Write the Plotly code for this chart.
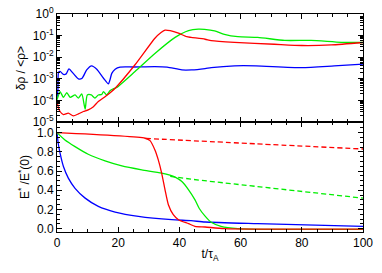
import plotly.graph_objects as go

# ---- top panel: density fluctuation ----
t_blue_top = [0, 0.3, 0.5, 1, 2.1, 3.0, 3.9, 5.3, 7.0, 8.2, 9.7, 11.3, 13.0, 15.2, 16.8, 17.3, 17.9, 19, 20.6, 25, 32, 36, 40.8, 44, 48.4, 50.4, 58, 65, 80, 90.6, 100]
v_blue_top = [1.3e-4, 3.2e-4, 2.0e-3, 2.2e-3, 1.6e-3, 1.7e-3, 2.9e-3, 1.8e-3, 1.0e-3, 1.07e-3, 2.6e-3, 4.0e-3, 2.8e-3, 1.07e-3, 5.9e-4, 8.9e-4, 1.8e-3, 2.8e-3, 3.5e-3, 3.55e-3, 3.7e-3, 3.5e-3, 2.6e-3, 2.6e-3, 3.0e-3, 3.3e-3, 4.0e-3, 4.0e-3, 3.3e-3, 4.0e-3, 4.8e-3]

t_green_top = [0, 0.5, 1, 2.1, 3.2, 4.3, 5.9, 7, 8.1, 9.2, 9.9, 11.2, 12.4, 13.5, 14.6, 15.2, 16.2, 17.3, 18.4, 19.5, 25.5, 32, 38.6, 43, 46.2, 48.2, 51.5, 54.7, 59.1, 65.6, 74.4, 83, 92.9, 100]
v_green_top = [1.07e-4, 1.8e-4, 2.6e-4, 1.4e-4, 2.3e-4, 1.4e-4, 1.8e-4, 1.3e-4, 2.0e-4, 4.0e-5, 1.8e-4, 1.8e-4, 1.3e-4, 1.8e-4, 1.9e-4, 2.6e-4, 1.8e-4, 2.8e-4, 3.5e-4, 4.0e-4, 2.2e-3, 1.5e-2, 8.3e-2, 0.17, 0.20, 0.195, 0.166, 0.115, 0.089, 0.083, 0.060, 0.060, 0.049, 0.048]

t_red_top = [0, 0.5, 1, 2.1, 3.7, 5.3, 7, 8.6, 10.2, 11.9, 13.5, 16, 19, 25.5, 32, 34, 35.3, 37, 39.7, 42.4, 43.8, 48.4, 50.4, 58, 71, 80, 89.6, 100]
v_red_top = [8.9e-5, 4.5e-5, 3.1e-5, 2.2e-5, 2.6e-5, 1.95e-5, 2.4e-5, 3.1e-5, 3.7e-5, 5.2e-5, 8.9e-5, 1.6e-4, 3.7e-4, 4.5e-3, 7.6e-2, 0.14, 0.18, 0.17, 0.13, 0.089, 0.083, 0.068, 0.059, 0.049, 0.040, 0.035, 0.037, 0.048]

# ---- bottom panel: normalised energy ----
t_blue_bot = [0, 0.4, 1, 2.1, 3.7, 5.9, 9.2, 13.5, 19, 26.6, 37.5, 43.8, 48.4, 65.6, 100]
v_blue_bot = [1.0, 0.89, 0.786, 0.647, 0.526, 0.42, 0.318, 0.232, 0.173, 0.128, 0.093, 0.083, 0.069, 0.052, 0.024]

t_green_bot = [0, 2.6, 5.9, 10.2, 15.7, 21.2, 27.7, 34.2, 38.6, 40.8, 43, 45.1, 46.5, 48.4, 50.4, 53.6, 59.1, 70, 100]
v_green_bot = [1.0, 0.924, 0.855, 0.775, 0.706, 0.654, 0.613, 0.578, 0.537, 0.491, 0.405, 0.30, 0.21, 0.13, 0.066, 0.024, 0.0, -0.008, -0.008]

t_red_bot = [0, 28.8, 30.4, 32, 33.1, 34.2, 35.3, 36.4, 38, 39.7, 43, 45.1, 48.4, 54.6, 70, 100]
v_red_bot = [1.0, 0.942, 0.917, 0.82, 0.716, 0.578, 0.405, 0.249, 0.145, 0.093, 0.052, 0.024, 0.017, 0.0, -0.005, -0.005]

t_red_dash = [29, 65, 100]
v_red_dash = [0.94, 0.884, 0.83]

t_green_dash = [37, 43.8, 100]
v_green_dash = [0.545, 0.516, 0.318]

top_tickvals = [1e-5, 1e-4, 1e-3, 1e-2, 1e-1, 1]
top_ticktext = ["10<sup>-5</sup>", "10<sup>-4</sup>", "10<sup>-3</sup>", "10<sup>-2</sup>", "10<sup>-1</sup>", "10<sup>0</sup>"]

RED, GREEN, BLUE = "#ff0000", "#00ee00", "#0000ff"
LW = 1.3

fig = go.Figure()

def add(x, y, color, ax, dash="solid"):
    fig.add_trace(go.Scatter(x=x, y=y, mode="lines", xaxis=ax[0], yaxis=ax[1],
                             line=dict(color=color, width=LW, dash=dash, shape="spline", smoothing=0.6),
                             showlegend=False, hoverinfo="skip"))

add(t_blue_top, v_blue_top, BLUE, ("x", "y"))
add(t_green_top, v_green_top, GREEN, ("x", "y"))
add(t_red_top, v_red_top, RED, ("x", "y"))

add(t_blue_bot, v_blue_bot, BLUE, ("x2", "y2"))
add(t_green_bot, v_green_bot, GREEN, ("x2", "y2"))
add(t_green_dash, v_green_dash, GREEN, ("x2", "y2"), dash="5px,3px")
add(t_red_bot, v_red_bot, RED, ("x2", "y2"))
add(t_red_dash, v_red_dash, RED, ("x2", "y2"), dash="5px,3px")

FONT = dict(family="Liberation Sans, Arial, sans-serif", size=12, color="black")
common = dict(showgrid=False, zeroline=False, showline=True, linecolor="black", linewidth=1,
              mirror="ticks", ticks="inside", tickcolor="black", tickwidth=1, tickfont=FONT,
              automargin=False)

split = 0.504
fig.update_layout(
    width=382, height=273,
    margin=dict(l=57, r=19, t=14, b=41),
    paper_bgcolor="white", plot_bgcolor="white",
    font=FONT,
    xaxis=dict(domain=[0, 1], anchor="y", range=[0, 100], dtick=20, ticklen=5,
               showticklabels=False, minor=dict(dtick=5, ticks="inside", ticklen=3, tickcolor="black"), **common),
    yaxis=dict(domain=[split, 1], anchor="x", type="log", range=[-5, 0],
               tickvals=top_tickvals, ticktext=top_ticktext, ticklen=5,
               minor=dict(ticks="inside", ticklen=3, tickcolor="black", dtick="D1"),
               title=dict(text="δρ / &lt;ρ&gt;", font=FONT, standoff=4), **common),
    xaxis2=dict(domain=[0, 1], anchor="y2", range=[0, 100], dtick=20, ticklen=5,
                minor=dict(dtick=5, ticks="inside", ticklen=3, tickcolor="black"),
                title=dict(text="t/τ<sub>A</sub>", font=FONT, standoff=0), **common),
    yaxis2=dict(domain=[0, split], anchor="x2", range=[-0.035, 1.11], dtick=0.2, tickformat=".1f",
                ticklen=5, minor=dict(dtick=0.05, ticks="inside", ticklen=3, tickcolor="black"),
                title=dict(text="E<sup>*</sup> /E<sup>*</sup>(0)", font=FONT, standoff=4), **common),
)

# remove the default 8px page margin so the figure sits at the window's corner
fig.write_html("out.html", config={"displayModeBar": False},
               post_script="document.body.style.margin='0';")
